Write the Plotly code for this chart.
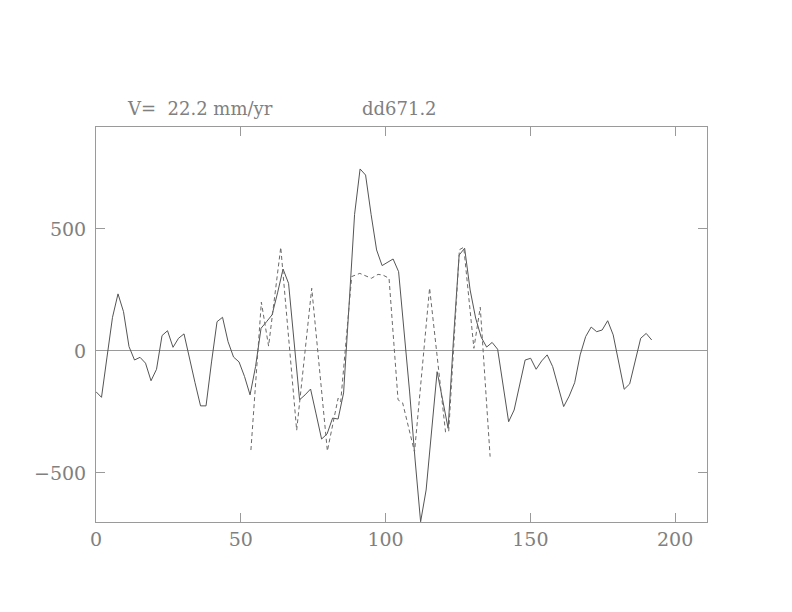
import plotly.graph_objects as go

# Solid series: evenly sampled profile
solid_step = 1.9
solid_y = [-167, -190, -25, 138, 234, 161, 18, -37, -26, -50,
           -122, -75, 63, 83, 15, 52, 70, -35, -130, -225,
           -225, -45, 120, 138, 38, -25, -45, -105, -180, -64,
           93, 120, 148, 238, 336, 277, 40, -200, -180, -156,
           -258, -361, -340, -275, -279, -172, 190, 560, 746, 721,
           560, 414, 350, 365, 377, 325, 86, -168, -447, -700,
           -570, -324, -85, -200, -317, 57, 393, 421, 250, 135,
           57, 16, 35, 7, -139, -290, -242, -139, -37, -30,
           -75, -41, -16, -64, -148, -228, -185, -130, -16, 59,
           98, 79, 86, 124, 66, -45, -157, -135, -37, 52,
           72, 45]
solid_x = [i * solid_step for i in range(len(solid_y))]

# Dashed series: vertices
dash_x = [53.5, 57.1, 59.6, 63.8, 69.3, 74.5, 79.9, 83.6, 84.5, 88.3,
          91.1, 93.4, 95.1, 97.4, 99.1, 101.2, 104.3, 105.9, 110.0, 115.2,
          120.7, 121.8, 125.5, 127.0, 130.5, 132.7, 136.1]
dash_y = [-406, 200, 20, 425, -325, 257, -410, -194, -209, 305,
          318, 305, 298, 314, 311, 298, -200, -213, -414, 258,
          -332, -330, 415, 425, 11, 179, -433]

x_ticks = [0, 50, 100, 150, 200]
y_ticks = [-500, 0, 500]
label_left = "V=  22.2 mm/yr"
label_right = "dd671.2"

font_family = "DejaVu Serif"
axis_color = "#9a9a9a"
text_color = "#808080"

fig = go.Figure()
fig.add_trace(go.Scatter(x=solid_x, y=solid_y, mode="lines",
                         line=dict(color="#555555", width=1),
                         showlegend=False, hoverinfo="skip"))
fig.add_trace(go.Scatter(x=dash_x, y=dash_y, mode="lines",
                         line=dict(color="#6a6a6a", width=1, dash="4px,3px"),
                         showlegend=False, hoverinfo="skip"))

axis_common = dict(showgrid=False, showline=True, linecolor=axis_color,
                   linewidth=1, mirror="ticks", ticks="inside", ticklen=9,
                   tickcolor=axis_color, tickwidth=1,
                   tickfont=dict(family=font_family, size=19, color=text_color))

fig.update_xaxes(range=[0, 211], tickvals=x_ticks, zeroline=False, **axis_common)
fig.update_yaxes(range=[-701, 918], tickvals=y_ticks, zeroline=True,
                 zerolinecolor=axis_color, zerolinewidth=1, ticklabelstandoff=5,
                 **axis_common)

fig.add_annotation(text=label_left, xref="paper", yref="paper",
                   x=0.047, y=1.048, xanchor="left", yanchor="middle",
                   showarrow=False,
                   font=dict(family=font_family, size=18, color=text_color))
fig.add_annotation(text=label_right, xref="paper", yref="paper",
                   x=0.432, y=1.048, xanchor="left", yanchor="middle",
                   showarrow=False,
                   font=dict(family=font_family, size=18, color=text_color))

fig.update_layout(width=792, height=612,
                  margin=dict(l=88, r=93, t=119, b=98),
                  paper_bgcolor="white", plot_bgcolor="white")

fig.write_html("out.html")
